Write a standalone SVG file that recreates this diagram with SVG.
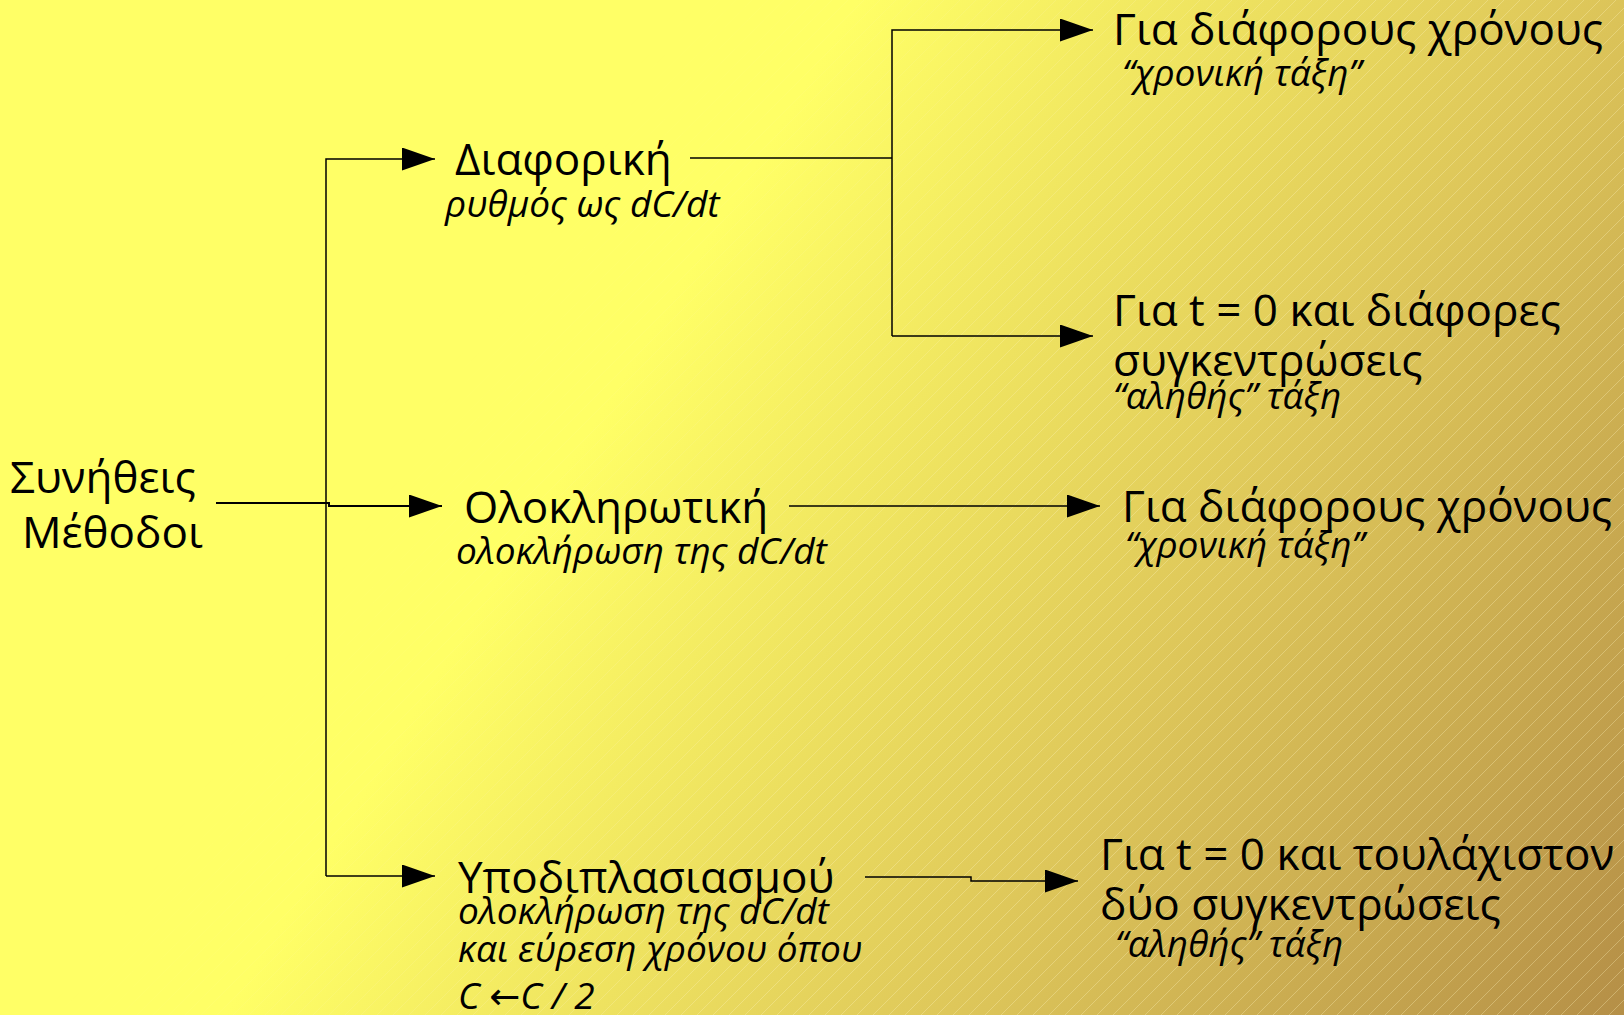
<svg xmlns="http://www.w3.org/2000/svg" width="1624" height="1015" viewBox="0 0 1624 1015">
<defs>
<linearGradient id="bg" gradientUnits="userSpaceOnUse" x1="0" y1="0" x2="1624" y2="1015">
<stop offset="0" stop-color="#FFFF66"/>
<stop offset="0.38" stop-color="#FFFF66"/>
<stop offset="0.7" stop-color="#DEC75A"/>
<stop offset="1" stop-color="#B58F47"/>
</linearGradient>
<linearGradient id="fade" gradientUnits="userSpaceOnUse" x1="0" y1="0" x2="1624" y2="1015">
<stop offset="0.3" stop-color="#000"/>
<stop offset="0.6" stop-color="#fff"/>
</linearGradient>
<mask id="hm"><rect width="1624" height="1015" fill="url(#fade)"/></mask>
<pattern id="hatch" patternUnits="userSpaceOnUse" width="16" height="16">
<path d="M-4,4 L4,-4 M0,16 L16,0 M12,20 L20,12" stroke="#FFF6C0" stroke-width="0.8" stroke-opacity="0.4"/>
</pattern>
<marker id="ah" markerUnits="userSpaceOnUse" markerWidth="34" markerHeight="24" refX="33" refY="11.5" orient="auto">
<path d="M0,0 L33,11.5 L0,23 Z" fill="#000"/>
</marker>
<style>
.t{font-family:"Open Sans","Noto Sans","DejaVu Sans",sans-serif;fill:#000}
.m{font-size:44px}
.s{font-size:37px;font-style:italic}
.c{fill:none;stroke:#000;stroke-width:1.5}
</style>
</defs>
<rect width="1624" height="1015" fill="url(#bg)"/>
<rect width="1624" height="1015" fill="url(#hatch)" mask="url(#hm)"/>

<g id="connectors">
<path class="c" d="M216,503 H329 V506 H442" marker-end="url(#ah)" style="stroke-width:2"/>
<path class="c" d="M326,876 V159 H435" marker-end="url(#ah)"/>
<path class="c" d="M326,876 H435" marker-end="url(#ah)"/>
<path class="c" d="M690,158 H892"/>
<path class="c" d="M892,336 V30 H1093" marker-end="url(#ah)"/>
<path class="c" d="M892,336 H1093" marker-end="url(#ah)"/>
<path class="c" d="M789,506 H1100" marker-end="url(#ah)"/>
<path class="c" d="M865,877 H971 V881 H1078" marker-end="url(#ah)"/>
</g>

<g id="n-root">
<text class="t m" x="10" y="493">Συνήθεις</text>
<text class="t m" x="22" y="548">Μέθοδοι</text>
</g>
<g id="n-diaf">
<text class="t m" x="455" y="175">Διαφορική</text>
<text class="t s" x="445" y="217">ρυθμός ως dC/dt</text>
</g>
<g id="n-olok">
<text class="t m" x="464" y="523">Ολοκληρωτική</text>
<text class="t s" x="456" y="564">ολοκλήρωση της dC/dt</text>
</g>
<g id="n-ypod">
<text class="t m" x="458" y="893">Υποδιπλασιασμού</text>
<text class="t s" x="458" y="924">ολοκλήρωση της dC/dt</text>
<text class="t s" x="458" y="962">και εύρεση χρόνου όπου</text>
<text class="t s" x="458" y="1009">C ←C / 2</text>
</g>
<g id="n-r1">
<text class="t m" x="1113" y="45">Για διάφορους χρόνους</text>
<text class="t s" x="1122" y="86">“χρονική τάξη”</text>
</g>
<g id="n-r2">
<text class="t m" x="1113" y="326">Για t = 0 και διάφορες</text>
<text class="t m" x="1113" y="376">συγκεντρώσεις</text>
<text class="t s" x="1113" y="409">“αληθής” τάξη</text>
</g>
<g id="n-r3">
<text class="t m" x="1122" y="522">Για διάφορους χρόνους</text>
<text class="t s" x="1125" y="558">“χρονική τάξη”</text>
</g>
<g id="n-r4">
<text class="t m" x="1100" y="870">Για t = 0 και τουλάχιστον</text>
<text class="t m" x="1100" y="920">δύο συγκεντρώσεις</text>
<text class="t s" x="1115" y="957">“αληθής” τάξη</text>
</g>
</svg>
